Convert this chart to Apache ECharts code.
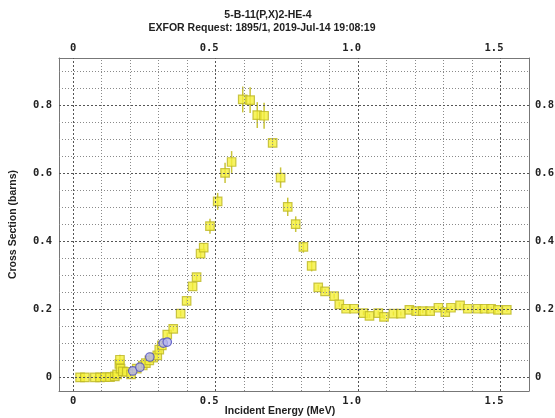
<!DOCTYPE html>
<html>
<head>
<meta charset="utf-8">
<script src="https://cdn.jsdelivr.net/npm/echarts@6/dist/echarts.min.js"></script>
<style>
html, body { margin: 0; padding: 0; background: #fff; }
#main { width: 555px; height: 418px; }
</style>
</head>
<body>
<div id="main"></div>
<script>
// yellow squares: energy (MeV), cross section (barns), error (barns)
const energyYellow = [
    0.024, 0.041, 0.076, 0.094, 0.111, 0.129, 0.146, 0.154, 0.162, 0.164,
    0.166, 0.174, 0.188, 0.203, 0.223, 0.244, 0.255, 0.267, 0.281, 0.295,
    0.302, 0.311, 0.330, 0.351, 0.377, 0.398, 0.419, 0.433, 0.447, 0.458,
    0.480, 0.507, 0.533, 0.556, 0.595, 0.621, 0.646, 0.670, 0.700, 0.728,
    0.753, 0.781, 0.808, 0.837, 0.860, 0.884, 0.916, 0.934, 0.958, 0.986,
    1.019, 1.040, 1.071, 1.091, 1.124, 1.150, 1.180, 1.204, 1.227, 1.253,
    1.282, 1.306, 1.326, 1.358, 1.385, 1.420, 1.444, 1.467, 1.491, 1.522,
];
const sigmaYellow = [
    0.000, 0.000, 0.000, 0.000, 0.001, 0.001, 0.003, 0.009, 0.040, 0.052,
    0.026, 0.018, 0.016, 0.009, 0.026, 0.035, 0.042, 0.050, 0.058, 0.065,
    0.082, 0.094, 0.126, 0.143, 0.188, 0.225, 0.268, 0.295, 0.364, 0.382,
    0.445, 0.518, 0.602, 0.634, 0.818, 0.816, 0.772, 0.770, 0.690, 0.588,
    0.502, 0.451, 0.384, 0.328, 0.265, 0.253, 0.239, 0.215, 0.202, 0.202,
    0.189, 0.181, 0.189, 0.178, 0.188, 0.188, 0.199, 0.195, 0.195, 0.195,
    0.205, 0.192, 0.205, 0.212, 0.202, 0.202, 0.202, 0.202, 0.199, 0.199,
];
const errYellow = [
    0.004, 0.004, 0.004, 0.004, 0.004, 0.004, 0.004, 0.005, 0.015, 0.015,
    0.008, 0.006, 0.006, 0.005, 0.005, 0.005, 0.005, 0.005, 0.005, 0.005,
    0.006, 0.006, 0.006, 0.006, 0.008, 0.008, 0.010, 0.010, 0.012, 0.012,
    0.022, 0.025, 0.030, 0.032, 0.038, 0.038, 0.038, 0.038, 0.010, 0.030,
    0.027, 0.023, 0.017, 0.016, 0.008, 0.008, 0.007, 0.007, 0.006, 0.006,
    0.006, 0.006, 0.006, 0.006, 0.006, 0.006, 0.006, 0.006, 0.006, 0.006,
    0.006, 0.006, 0.006, 0.006, 0.006, 0.006, 0.006, 0.006, 0.006, 0.006,
];

// blue circles
const energyBlue = [0.209, 0.234, 0.269, 0.316, 0.330];
const sigmaBlue = [0.019, 0.030, 0.060, 0.101, 0.104];

// grid lines and tick labels
const gridX = [0, 0.1, 0.2, 0.3, 0.4, 0.5, 0.6, 0.7, 0.8, 0.9, 1.0, 1.1, 1.2, 1.3, 1.4, 1.5];
const gridY = [0, 0.05, 0.1, 0.15, 0.2, 0.25, 0.3, 0.35, 0.4, 0.45, 0.5, 0.55, 0.6, 0.65, 0.7, 0.75, 0.8, 0.85, 0.9];
const xTickLabels = [0, 0.5, 1.0, 1.5];
const yTickLabels = [0, 0.2, 0.4, 0.6, 0.8];

const titleLines = ['5-B-11(P,X)2-HE-4', 'EXFOR Request: 1895/1, 2019-Jul-14 19:08:19'];

const chart = echarts.init(document.getElementById('main'));

const isOneOf = (v, list) => list.some(t => Math.abs(t - v) < 1e-6);
const fmtX = v => (isOneOf(v, xTickLabels) ? (v === 0 ? '0' : v.toFixed(1)) : '');
const fmtY = v => (isOneOf(v, yTickLabels) ? (Math.abs(v) < 1e-9 ? '0' : v.toFixed(1)) : '');

const labelFont = {
    fontFamily: 'DejaVu Sans Mono',
    fontWeight: 'bold',
    fontSize: 10.5,
    color: '#222',
};
const frameLine = { show: true, onZero: false, lineStyle: { color: '#777', width: 1 } };

const xAxisBase = {
    type: 'value',
    min: -0.05,
    max: 1.6,
    interval: 0.05,
    axisLine: frameLine,
    axisTick: { show: false },
    splitLine: { show: false },
};
const yAxisBase = {
    type: 'value',
    min: -0.04,
    max: 0.94,
    interval: 0.01,
    axisLine: frameLine,
    axisTick: { show: false },
    splitLine: { show: false },
};

const majorStyle = { color: '#555', type: [2, 2], width: 1 };
const minorStyle = { color: '#8a8a8a', type: [1, 2], width: 1 };
const gridLines = [].concat(
    gridX.map(v => ({ xAxis: v, lineStyle: isOneOf(v, xTickLabels) ? majorStyle : minorStyle })),
    gridY.map(v => ({ yAxis: v, lineStyle: isOneOf(v, yTickLabels) ? majorStyle : minorStyle })),
);

const errData = energyYellow.map((e, i) => [e, sigmaYellow[i] - errYellow[i], sigmaYellow[i] + errYellow[i]]);

const option = {
    animation: false,
    backgroundColor: '#fff',
    grid: { left: 59, right: 26, top: 58, bottom: 27, containLabel: false, outerBoundsMode: 'none' },
    graphic: [
        {
            type: 'text', x: 268, y: 15,
            style: {
                text: titleLines[0], textAlign: 'center', textVerticalAlign: 'middle',
                font: 'bold 10.5px "Liberation Sans"', fill: '#222',
            },
        },
        {
            type: 'text', x: 262, y: 28,
            style: {
                text: titleLines[1], textAlign: 'center', textVerticalAlign: 'middle',
                font: 'bold 10.5px "Liberation Sans"', fill: '#222',
            },
        },
    ],
    xAxis: [
        Object.assign({}, xAxisBase, {
            position: 'bottom',
            name: 'Incident Energy (MeV)',
            nameLocation: 'middle',
            nameGap: 15,
            nameMoveOverlap: false,
            nameTextStyle: {
                fontFamily: 'Liberation Sans', fontWeight: 'bold', fontSize: 10.5,
                color: '#222', padding: [0, 28, 0, 0],
            },
            axisLabel: Object.assign({ margin: 5, formatter: fmtX, align: 'right', padding: [0, -3, 0, 0] }, labelFont),
        }),
        Object.assign({}, xAxisBase, {
            position: 'top',
            axisLabel: Object.assign({ margin: 4, formatter: fmtX, align: 'right', padding: [0, -3, 0, 0] }, labelFont),
        }),
    ],
    yAxis: [
        Object.assign({}, yAxisBase, {
            position: 'left',
            name: 'Cross Section (barns)',
            nameLocation: 'middle',
            nameGap: 40,
            nameMoveOverlap: false,
            nameTextStyle: {
                fontFamily: 'Liberation Sans', fontWeight: 'bold', fontSize: 10.5, color: '#222',
            },
            axisLabel: Object.assign({ margin: 7, formatter: fmtY }, labelFont),
        }),
        Object.assign({}, yAxisBase, {
            position: 'right',
            axisLabel: Object.assign({ margin: 6, formatter: fmtY }, labelFont),
        }),
    ],
    series: [
        {
            name: 'grid',
            type: 'scatter',
            data: [],
            z: 1,
            silent: true,
            markLine: {
                silent: true,
                symbol: 'none',
                label: { show: false },
                animation: false,
                data: gridLines,
            },
        },
        {
            name: 'errors',
            type: 'custom',
            z: 3,
            encode: { x: 0, y: [1, 2] },
            data: errData,
            renderItem: (params, api) => {
                const p1 = api.coord([api.value(0), api.value(1)]);
                const p2 = api.coord([api.value(0), api.value(2)]);
                return {
                    type: 'line',
                    shape: { x1: p1[0], y1: p1[1], x2: p2[0], y2: p2[1] },
                    style: { stroke: '#c9c43a', lineWidth: 1.5 },
                };
            },
        },
        {
            name: 'yellow',
            type: 'scatter',
            z: 4,
            symbol: 'rect',
            symbolSize: 8.5,
            itemStyle: { color: '#f5f03a', borderColor: '#bdb624', borderWidth: 1.2 },
            data: energyYellow.map((e, i) => [e, sigmaYellow[i]]),
        },
        {
            name: 'blue',
            type: 'scatter',
            z: 5,
            symbol: 'circle',
            symbolSize: 8.5,
            itemStyle: { color: '#b4b4f0', borderColor: '#4a4ac0', borderWidth: 1.2 },
            data: energyBlue.map((e, i) => [e, sigmaBlue[i]]),
        },
    ],
};
chart.setOption(option);
</script>
</body>
</html>
